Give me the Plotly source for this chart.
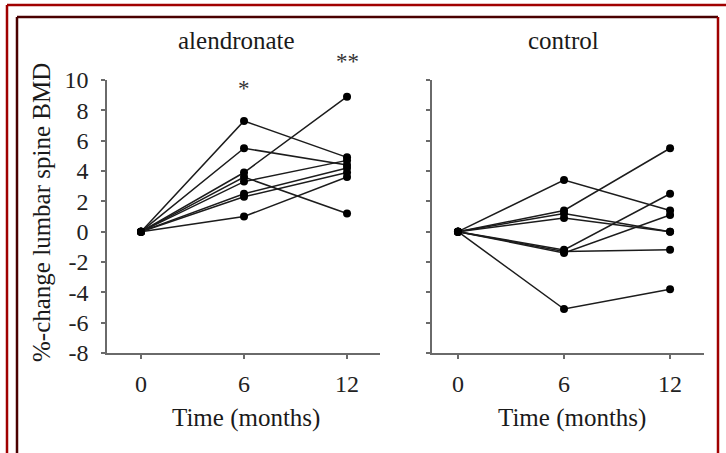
import plotly.graph_objects as go

W, H = 726, 453

# ---- data ----
months = [0, 6, 12]
tick_months = [0, 6, 12]
y_ticks = [-8, -6, -4, -2, 0, 2, 4, 6, 8, 10]
y_tick_text = ["-8", "-6", "-4", "-2", "0", "2", "4", "6", "8", "10"]
y_range = [-8, 10]

aln_0mo = [0, 0, 0, 0, 0, 0, 0, 0]
aln_6mo = [7.3, 5.5, 3.9, 3.6, 3.3, 2.5, 2.3, 1.0]
aln_12mo = [4.9, 4.4, 8.9, 1.2, 4.7, 4.2, 3.9, 3.6]

ctl_0mo = [0, 0, 0, 0, 0, 0, 0, 0]
ctl_6mo = [3.4, 1.4, 1.2, 0.9, -1.2, -1.4, -1.3, -5.1]
ctl_12mo = [1.4, 5.5, 0.0, 0.0, 2.5, 1.1, -1.2, -3.8]

panel_titles = ["alendronate", "control"]
x_title = "Time (months)"
y_title = "%-change lumbar spine BMD"
sig_marks = ["*", "**"]
sig_months = [6, 12]
sig_levels = [9.45, 11.2]

FONT = "Liberation Serif, Times New Roman, serif"
LINE_COL = "#1c1c1c"
AX_COL = "#6a6a6a"

fig = go.Figure()

def add_subjects(v0, v6, v12, xa, ya):
    for a, b, c in zip(v0, v6, v12):
        fig.add_trace(go.Scatter(
            x=months, y=[a, b, c], mode="lines+markers",
            line=dict(color=LINE_COL, width=1.5),
            marker=dict(color="#000000", size=8),
            xaxis=xa, yaxis=ya, showlegend=False, hoverinfo="skip"))

add_subjects(aln_0mo, aln_6mo, aln_12mo, "x", "y")
add_subjects(ctl_0mo, ctl_6mo, ctl_12mo, "x2", "y2")

def px(x):
    return x / W

def py(y):
    return 1 - y / H

ydom = [py(353), py(80)]
axis_common = dict(showline=True, linecolor=AX_COL, linewidth=1.5,
                   ticks="outside", ticklen=4, tickcolor=AX_COL, tickwidth=1.5,
                   showgrid=False, zeroline=False, automargin=False,
                   tickfont=dict(family=FONT, size=24, color="#222222"))

fig.update_layout(
    width=W, height=H, autosize=False,
    margin=dict(l=0, r=0, t=0, b=0),
    paper_bgcolor="white", plot_bgcolor="white",
    template="none",
    xaxis=dict(domain=[px(107), px(380)], range=[-1.98, 13.92],
               tickvals=tick_months, anchor="y", ticklabelstandoff=4, **axis_common),
    yaxis=dict(domain=ydom, range=y_range, tickvals=y_ticks, ticktext=y_tick_text,
               anchor="x", ticklabelstandoff=8, **axis_common),
    xaxis2=dict(domain=[px(432), px(704)], range=[-1.47, 13.92],
                tickvals=tick_months, anchor="y2", ticklabelstandoff=4, **axis_common),
    yaxis2=dict(domain=ydom, range=y_range, tickvals=y_ticks, anchor="x2",
                showticklabels=False, **axis_common),
)

ann = []
for t, xc in zip(panel_titles, [236.7, 563]):
    ann.append(dict(text=t, x=px(xc), y=py(40), xref="paper", yref="paper",
                    showarrow=False, xanchor="center", yanchor="middle",
                    font=dict(family=FONT, size=25, color="#1a1a1a")))
for xc in [246, 572]:
    ann.append(dict(text=x_title, x=px(xc), y=py(418), xref="paper", yref="paper",
                    showarrow=False, xanchor="center", yanchor="middle",
                    font=dict(family=FONT, size=25, color="#1a1a1a")))
ann.append(dict(text=y_title, x=px(42), y=py(213), xref="paper", yref="paper",
                showarrow=False, xanchor="center", yanchor="middle", textangle=-90,
                font=dict(family=FONT, size=25, color="#1a1a1a")))
# significance marks: x in data units, y mapped through the y-axis range
for s, m, lv in zip(sig_marks, sig_months, sig_levels):
    ann.append(dict(text=s, x=m, xref="x",
                    y=(lv - y_range[0]) / (y_range[1] - y_range[0]), yref="y domain",
                    showarrow=False, xanchor="center", yanchor="middle",
                    font=dict(family=FONT, size=23, color="#333333")))
fig.update_layout(annotations=ann)

RED = "#a00000"
DARK = "#4a0000"
shapes = [
    dict(x0=px(7), x1=px(726), y0=py(5), y1=py(5), col=RED),
    dict(x0=px(7), x1=px(7), y0=py(5), y1=py(453), col=RED),
    dict(x0=px(17), x1=px(718), y0=py(17), y1=py(17), col=DARK),
    dict(x0=px(17), x1=px(17), y0=py(17), y1=py(453), col=DARK),
    dict(x0=px(718), x1=px(718), y0=py(17), y1=py(453), col=RED),
]
for s in shapes:
    fig.add_shape(type="line", xref="paper", yref="paper",
                  x0=s["x0"], x1=s["x1"], y0=s["y0"], y1=s["y1"],
                  line=dict(color=s["col"], width=2.5))

fig.write_html("out.html", config={"displayModeBar": False},
               post_script="document.body.style.margin='0px';document.body.style.overflow='hidden';")
